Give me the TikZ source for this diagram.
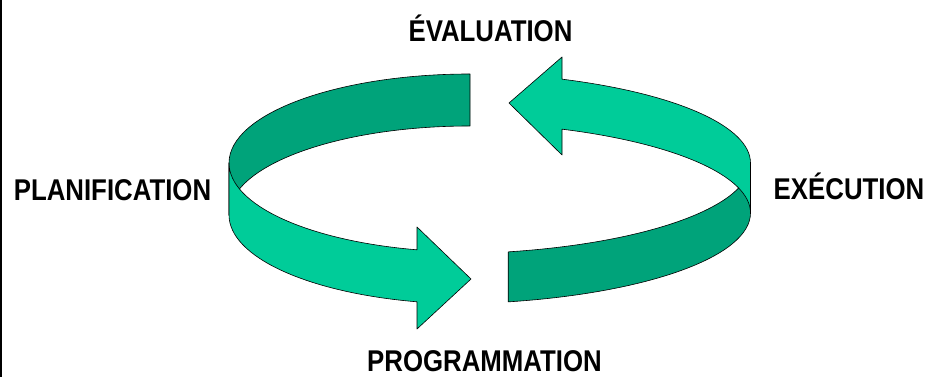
\documentclass[tikz,border=0pt]{standalone}
\usepackage{fontspec}
\newfontfamily\labelfont{Liberation Sans}[FakeStretch=0.86]
\definecolor{ribbonlight}{RGB}{0,204,153}
\definecolor{ribbondark}{RGB}{0,163,122}
\begin{document}
\begin{tikzpicture}[x=1pt, y=1pt,
    band/.style={draw=black, line width=0.6pt, line join=round},
    phase/.style={font=\labelfont\bfseries\fontsize{30}{30}\selectfont, inner sep=0pt, anchor=base}]
    \useasboundingbox (0,0) rectangle (930,377);
    \draw[line width=1.5pt] (0.75,0) -- (0.75,377);

    \coordinate (lt) at (470,214);
    \coordinate (lb) at (470,162);
    \coordinate (rt) at (442,214);
    \coordinate (rb) at (442,164);

    \draw[band, fill=ribbondark] ([shift={(lt)}]90:241 and 89) arc[start angle=90, end angle=180, x radius=241pt, y radius=89pt]
      -- ([shift={(lb)}]180:241 and 89) arc[start angle=180, end angle=90, x radius=241pt, y radius=89pt] -- cycle;
    \draw[band, fill=ribbonlight] ([shift={(lt)}]180:241 and 89) arc[start angle=180, end angle=257.3, x radius=241pt, y radius=89pt]
      -- (417,150) -- (471,98) -- (417,48)
      -- ([shift={(lb)}]257.3:241 and 89) arc[start angle=257.3, end angle=180, x radius=241pt, y radius=89pt] -- cycle;

    \draw[band, fill=ribbondark] ([shift={(rb)}]282.4:308.5 and 91) arc[start angle=282.4, end angle=360, x radius=308.5pt, y radius=91pt]
      -- ([shift={(rt)}]360:308.5 and 91) arc[start angle=360, end angle=282.4, x radius=308.5pt, y radius=91pt] -- cycle;
    \draw[band, fill=ribbonlight] ([shift={(rt)}]0:308.5 and 91) arc[start angle=0, end angle=67.1, x radius=308.5pt, y radius=91pt]
      -- (562,320) -- (509,274) -- (562,222)
      -- ([shift={(rb)}]67.1:308.5 and 91) arc[start angle=67.1, end angle=0, x radius=308.5pt, y radius=91pt] -- cycle;

    \node[phase] (eval) at (490.5,335) {ÉVALUATION};
    \node[phase] (plan) at (112.5,176) {PLANIFICATION};
    \node[phase] (exec) at (849,177.5) {EXÉCUTION};
    \node[phase] (prog) at (484.5,5.5) {PROGRAMMATION};
\end{tikzpicture}
\end{document}
